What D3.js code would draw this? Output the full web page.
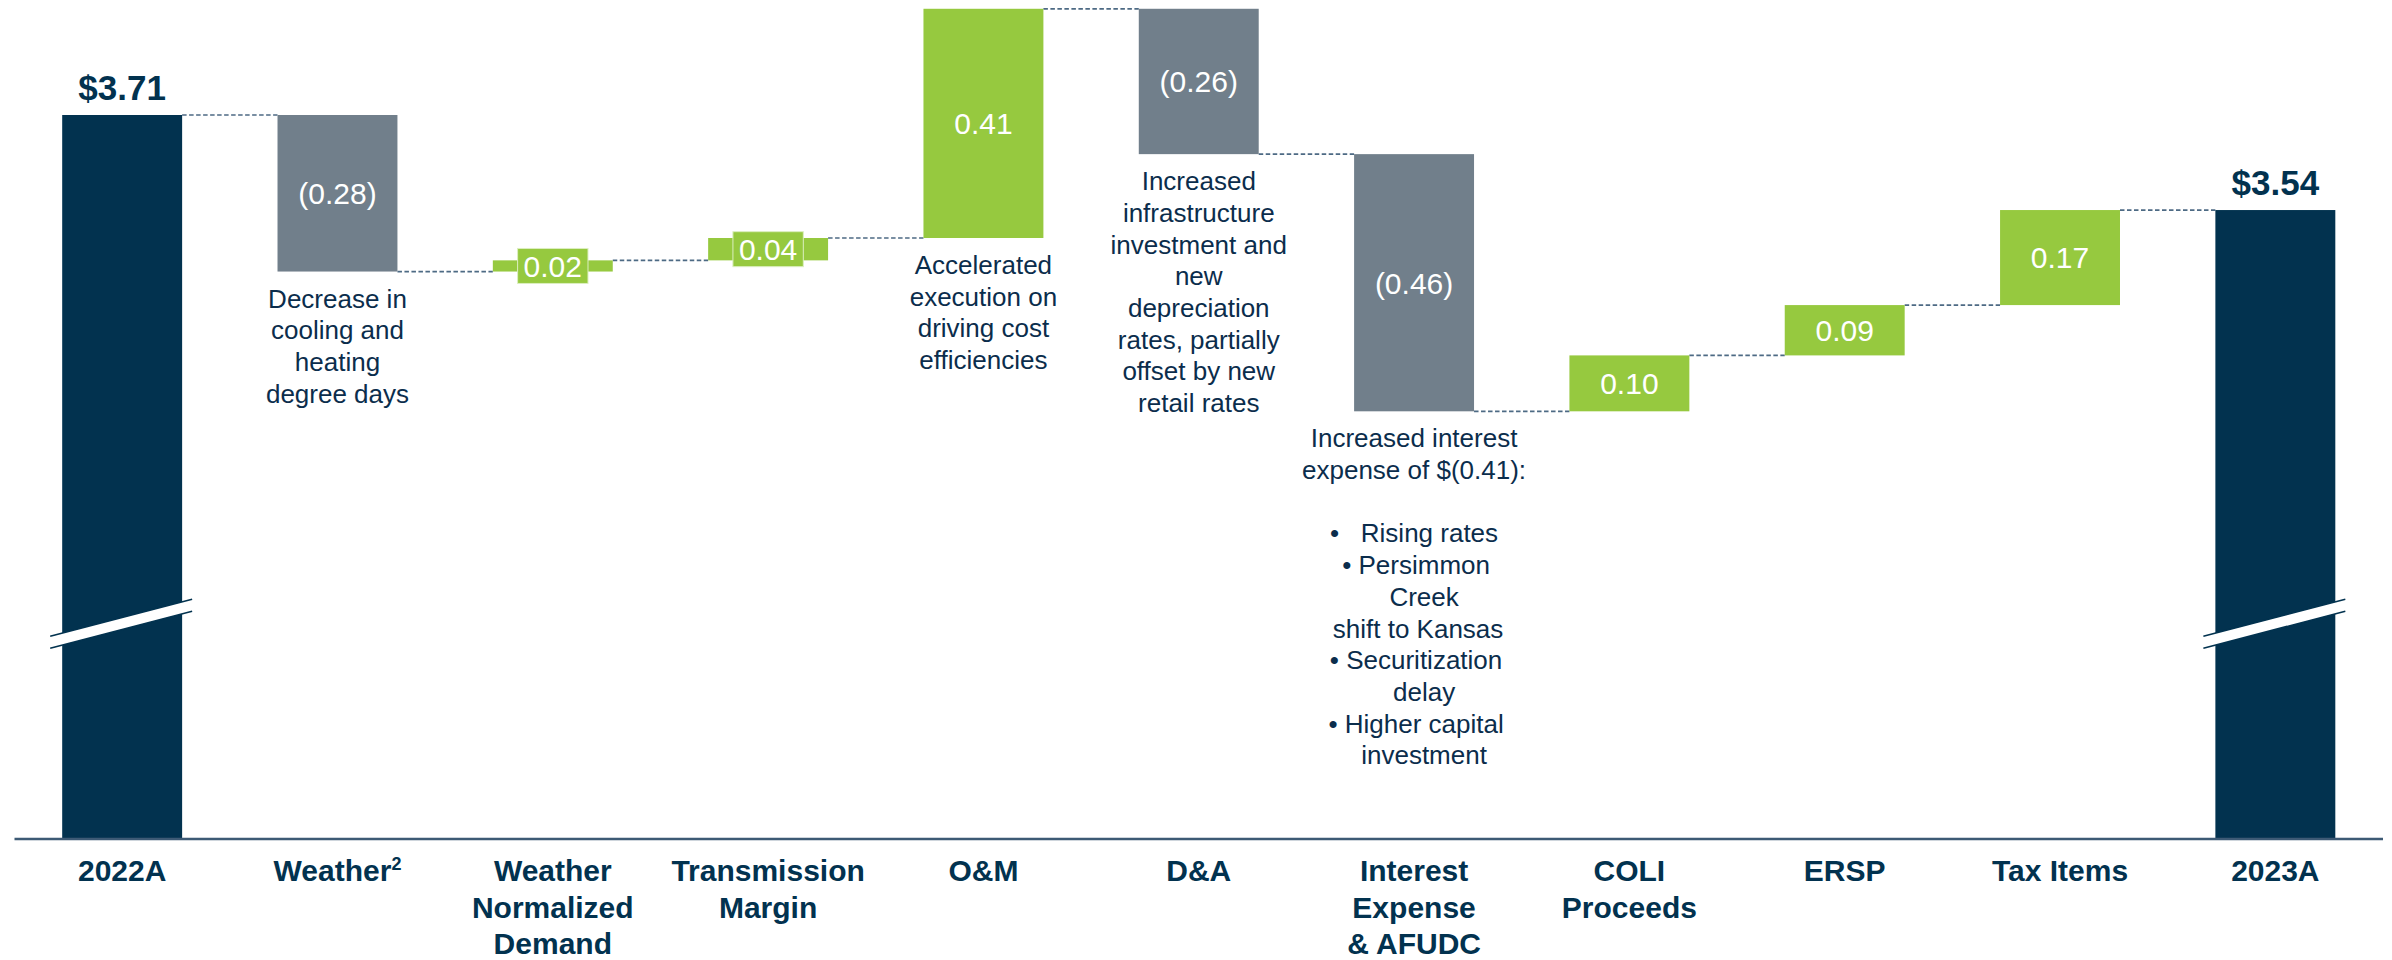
<!DOCTYPE html>
<html>
<head>
<meta charset="utf-8">
<script src="https://cdn.jsdelivr.net/npm/d3@7"></script>
<style>
  html, body { margin: 0; padding: 0; background: #ffffff; }
  svg { display: block; }
  text { font-family: "Liberation Sans", Arial, sans-serif; }
</style>
</head>
<body>
<svg id="chart" width="2392" height="960"></svg>
<script>
// ---------------- DATA ----------------
const categories = ["2022A", "Weather", "Weather Normalized Demand", "Transmission Margin", "O&M", "D&A",
  "Interest Expense & AFUDC", "COLI Proceeds", "ERSP", "Tax Items", "2023A"];
const categoryLines = [["2022A"], ["Weather"], ["Weather", "Normalized", "Demand"], ["Transmission", "Margin"],
  ["O&M"], ["D&A"], ["Interest", "Expense", "& AFUDC"], ["COLI", "Proceeds"], ["ERSP"], ["Tax Items"], ["2023A"]];
const categorySuperscripts = ["", "2", "", "", "", "", "", "", "", "", ""];
const values = [3.71, -0.28, 0.02, 0.04, 0.41, -0.26, -0.46, 0.10, 0.09, 0.17, 3.54];
const barTypes = ["total", "delta", "delta", "delta", "delta", "delta", "delta", "delta", "delta", "delta", "total"];
const valueLabels = ["$3.71", "(0.28)", "0.02", "0.04", "0.41", "(0.26)", "(0.46)", "0.10", "0.09", "0.17", "$3.54"];
const annotations = [
  [],
  ["Decrease in", "cooling and", "heating", "degree days"],
  [], [],
  ["Accelerated", "execution on", "driving cost", "efficiencies"],
  ["Increased", "infrastructure", "investment and", "new", "depreciation", "rates, partially", "offset by new", "retail rates"],
  ["Increased interest", "expense of $(0.41):", "", "\u2022\u00a0\u00a0 Rising rates", "\u2022 Persimmon", "Creek", "shift to Kansas",
   "\u2022 Securitization", "delay", "\u2022 Higher capital", "investment"],
  [], [], [], []
];
const annotationOffsets = [
  [], [0,0,0,0], [], [], [0,0,0,0], [0,0,0,0,0,0,0,0],
  [0,0,0,0,2,10,4,2,10,2,10], [], [], [], []
];

// ---------------- STYLE ----------------
const NAVY = "#02324f";
const GREY = "#717f8b";
const GREEN = "#96c93f";
const TEXT = "#0b2d4c";
const DASH = "#4d6a84";

const svg = d3.select("#chart");
const baseY = 839;

// x: band scale
const x = d3.scaleBand().domain(categories).range([14.5, 2383]).paddingInner(0.443).paddingOuter(0.2215);
// y: broken axis, bars sit on baseline which corresponds to ~2.415
const y = d3.scaleLinear().domain([2.415, 3.71]).range([baseY, 115]);

// compute waterfall
let running = 0;
const bars = categories.map((c, i) => {
  let start, end;
  if (barTypes[i] === "total") { start = y.domain()[0]; end = values[i]; running = values[i]; }
  else { start = running; end = running + values[i]; running = end; }
  return { cat: c, i, start, end, type: barTypes[i], v: values[i] };
});

function colorOf(b) {
  if (b.type === "total") return NAVY;
  return b.v < 0 ? GREY : GREEN;
}

// connectors
for (let i = 0; i < bars.length - 1; i++) {
  const b = bars[i];
  svg.append("line")
    .attr("x1", x(b.cat) + x.bandwidth()).attr("x2", x(bars[i + 1].cat))
    .attr("y1", y(b.end)).attr("y2", y(b.end))
    .attr("stroke", DASH).attr("stroke-width", 1.7).attr("stroke-dasharray", "4.5,2.5");
}

// bars
svg.append("g").selectAll("rect").data(bars).join("rect")
  .attr("x", d => x(d.cat))
  .attr("width", x.bandwidth())
  .attr("y", d => y(Math.max(d.start, d.end)))
  .attr("height", d => Math.abs(y(d.start) - y(d.end)))
  .attr("fill", colorOf);

// axis break marks on total bars
const breakMid = y(2.8);
bars.filter(d => d.type === "total").forEach(d => {
  const xl = x(d.cat) - 12, xr = x(d.cat) + x.bandwidth() + 10;
  const rise = 37, gap = 12;
  const yl = breakMid + rise / 2, yr = breakMid - rise / 2;
  svg.append("polygon")
    .attr("points", [[xl, yl - gap / 2], [xr, yr - gap / 2], [xr, yr + gap / 2], [xl, yl + gap / 2]].map(p => p.join(",")).join(" "))
    .attr("fill", "#ffffff");
  [-gap / 2, gap / 2].forEach(o => {
    svg.append("line").attr("x1", xl).attr("y1", yl + o).attr("x2", xr).attr("y2", yr + o)
      .attr("stroke", NAVY).attr("stroke-width", 1.6);
  });
});

// axis baseline
svg.append("line").attr("x1", 14.5).attr("x2", 2383).attr("y1", baseY).attr("y2", baseY)
  .attr("stroke", "#3d5a75").attr("stroke-width", 2.5);

// value labels
bars.forEach(d => {
  const cx = x(d.cat) + x.bandwidth() / 2;
  if (d.type === "total") {
    svg.append("text").attr("x", cx).attr("y", y(d.end) - 15)
      .attr("text-anchor", "middle").attr("font-size", 35).attr("font-weight", "bold")
      .attr("fill", NAVY).text(valueLabels[d.i]);
  } else {
    const cy = (y(d.start) + y(d.end)) / 2;
    const h = Math.abs(y(d.start) - y(d.end));
    const g = svg.append("g");
    if (h < 34) {
      const box = g.append("rect").attr("fill", GREEN).attr("stroke", "#dcefc0").attr("stroke-width", 1);
      const t = g.append("text").attr("x", cx).attr("y", cy).attr("dy", "0.36em")
        .attr("text-anchor", "middle").attr("font-size", 30).attr("fill", "#ffffff").text(valueLabels[d.i]);
      const bb = t.node().getBBox();
      box.attr("x", bb.x - 6).attr("width", bb.width + 12).attr("y", cy - 17.5).attr("height", 35);
    } else {
      g.append("text").attr("x", cx).attr("y", cy).attr("dy", "0.36em")
        .attr("text-anchor", "middle").attr("font-size", 30).attr("fill", "#ffffff").text(valueLabels[d.i]);
    }
  }
});

// annotations under bars
bars.forEach(d => {
  const lines = annotations[d.i];
  if (!lines.length) return;
  const cx = x(d.cat) + x.bandwidth() / 2;
  const bottom = y(Math.min(d.start, d.end));
  const t = svg.append("text").attr("text-anchor", "middle").attr("font-size", 26).attr("fill", TEXT)
    .attr("xml:space", "preserve");
  lines.forEach((ln, k) => {
    t.append("tspan").attr("x", cx + annotationOffsets[d.i][k]).attr("y", bottom + 36 + k * 31.7).text(ln);
  });
});

// category labels
categories.forEach((c, i) => {
  const cx = x(c) + x.bandwidth() / 2;
  const t = svg.append("text").attr("text-anchor", "middle").attr("font-size", 30)
    .attr("font-weight", "bold").attr("fill", NAVY);
  categoryLines[i].forEach((ln, k) => {
    t.append("tspan").attr("x", cx).attr("y", 881 + k * 36.5).text(ln);
    if (k === 0 && categorySuperscripts[i]) {
      t.append("tspan").attr("font-size", 18).attr("dy", -11).text(categorySuperscripts[i]);
    }
  });
});
</script>
</body>
</html>
